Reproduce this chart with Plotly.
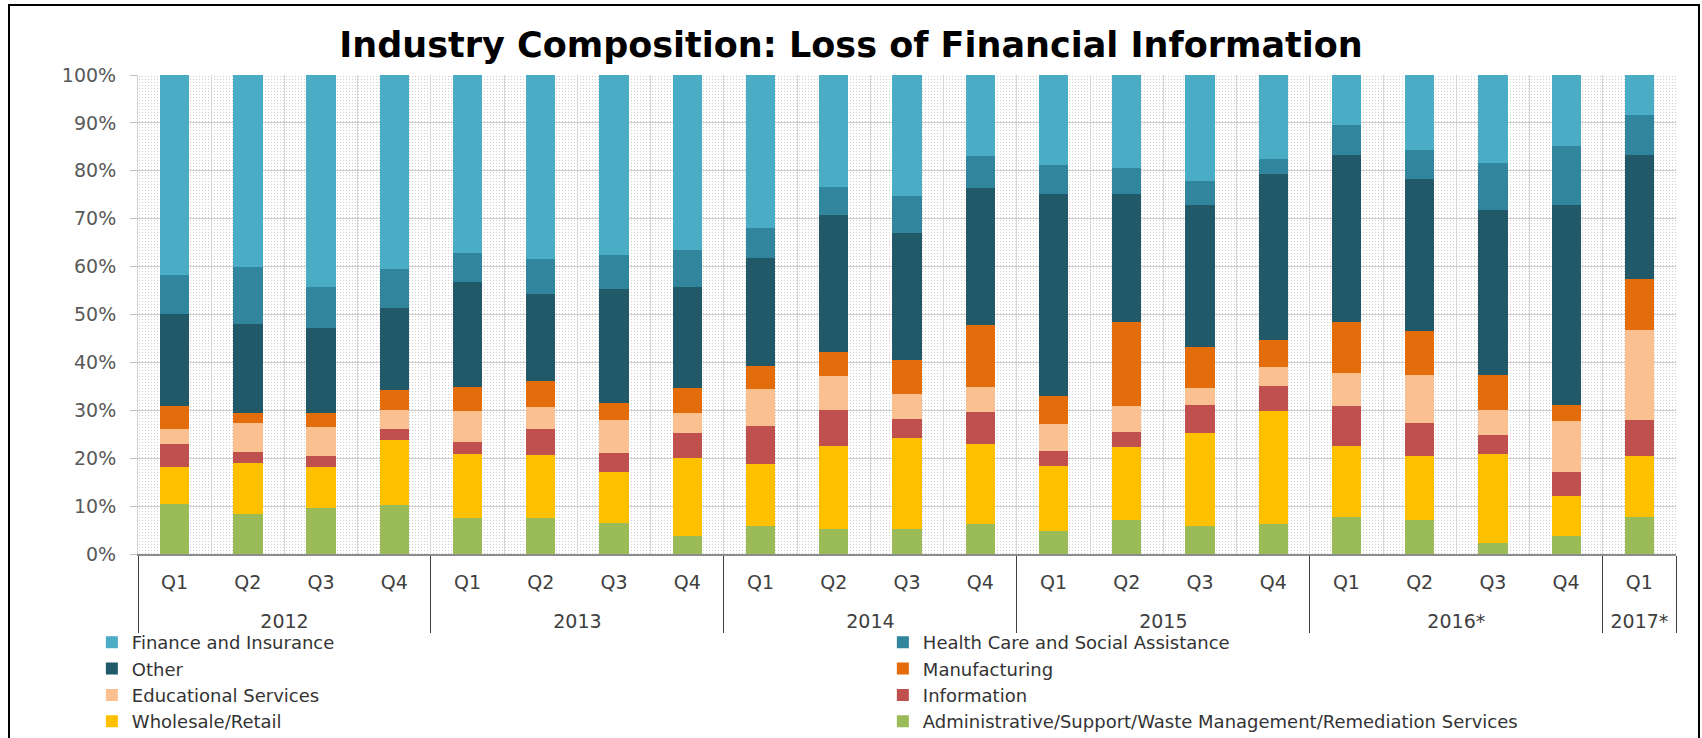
import base64
import plotly.graph_objects as go

years = ["2012"] * 4 + ["2013"] * 4 + ["2014"] * 4 + ["2015"] * 4 + ["2016*"] * 4 + ["2017*"]
quarters = ["Q1", "Q2", "Q3", "Q4"] * 5 + ["Q1"]

# Series (bottom of stack first)
admin = [10.4, 8.4, 9.6, 10.2, 7.6, 7.6, 6.5, 3.8, 5.9, 5.3, 5.3, 6.3, 4.9, 7.2, 5.9, 6.3, 7.8, 7.2, 2.4, 3.8, 7.8]
wholesale = [7.8, 10.6, 8.6, 13.6, 13.2, 13.1, 10.7, 16.2, 12.9, 17.2, 18.9, 16.6, 13.4, 15.1, 19.4, 23.5, 14.7, 13.3, 18.5, 8.4, 12.7]
information = [4.7, 2.3, 2.3, 2.2, 2.5, 5.3, 3.9, 5.2, 8.0, 7.6, 4.1, 6.8, 3.3, 3.3, 5.8, 5.2, 8.4, 6.8, 3.9, 4.9, 7.4]
educational = [3.1, 6.1, 6.1, 4.1, 6.5, 4.7, 6.8, 4.3, 7.6, 7.0, 5.2, 5.2, 5.5, 5.4, 3.5, 4.1, 6.8, 10.2, 5.3, 10.7, 18.9]
manufacturing = [4.9, 2.1, 2.9, 4.1, 4.9, 5.5, 3.7, 5.1, 4.9, 5.1, 7.0, 13.0, 5.9, 17.4, 8.6, 5.6, 10.7, 9.1, 7.2, 3.3, 10.6]
other = [19.3, 18.6, 17.6, 17.1, 21.9, 18.1, 23.8, 21.1, 22.4, 28.5, 26.5, 28.6, 42.3, 26.9, 29.5, 34.6, 34.9, 31.8, 34.5, 41.9, 25.9]
health = [8.0, 11.9, 8.6, 8.1, 6.1, 7.2, 7.0, 7.7, 6.3, 6.0, 7.9, 6.5, 5.9, 5.4, 5.1, 3.1, 6.3, 6.1, 9.8, 12.3, 8.4]
finance = [41.8, 40.0, 44.3, 40.6, 37.1, 38.5, 37.7, 36.6, 32.0, 23.3, 25.2, 17.0, 18.9, 19.4, 22.1, 17.6, 10.4, 15.6, 18.4, 14.8, 8.4]

series = [
    ("Administrative/Support/Waste Management/Remediation Services", admin, "#9BBB59"),
    ("Wholesale/Retail", wholesale, "#FFC000"),
    ("Information", information, "#C0504D"),
    ("Educational Services", educational, "#FAC090"),
    ("Manufacturing", manufacturing, "#E46C0A"),
    ("Other", other, "#215968"),
    ("Health Care and Social Assistance", health, "#31859C"),
    ("Finance and Insurance", finance, "#4BACC6"),
]

FONT = "DejaVu Sans"

# outer-level labels get a leading line break so they sit lower, as in the original
year_labels = ["<br>" + y for y in years]

fig = go.Figure()
for name, vals, col in series:
    fig.add_trace(go.Bar(
        x=[year_labels, quarters], y=vals, name=name,
        marker=dict(color=col, line=dict(width=0)),
    ))

# dotted plot-area background pattern (as in the original Excel chart)
PW, PH = 1538, 479
svg = (f'<svg xmlns="http://www.w3.org/2000/svg" width="{PW}" height="{PH}">'
       '<defs><pattern id="p" width="3" height="3" patternUnits="userSpaceOnUse">'
       '<rect x="1" y="1" width="1" height="1" fill="#cfcfcf"/></pattern></defs>'
       '<rect width="100%" height="100%" fill="#ffffff"/>'
       '<rect width="100%" height="100%" fill="url(#p)"/></svg>')
src = "data:image/svg+xml;base64," + base64.b64encode(svg.encode()).decode()

fig.update_layout(
    width=1702, height=738,
    margin=dict(l=138, r=26, t=75, b=184, autoexpand=False),
    paper_bgcolor="white",
    plot_bgcolor="rgba(0,0,0,0)",
    barmode="stack",
    barnorm="percent",
    bargap=0.6,
    title=dict(text="<b>Industry Composition: Loss of Financial Information</b>",
               x=0.5, xanchor="center", y=1 - 45 / 738, yanchor="middle",
               font=dict(family=FONT, size=35, color="#000000")),
    font=dict(family=FONT, size=19, color="#595959"),
    showlegend=True,
    legend=dict(orientation="h", traceorder="reversed",
                x=-0.030, xanchor="left", y=-0.146, yanchor="top",
                entrywidth=746, entrywidthmode="pixels",
                font=dict(family=FONT, size=18, color="#333333"),
                bgcolor="rgba(0,0,0,0)"),
    images=[dict(source=src, xref="paper", yref="paper", x=0, y=1, sizex=1, sizey=1,
                 xanchor="left", yanchor="top", sizing="stretch", layer="below")],
    shapes=[dict(type="rect", xref="paper", yref="paper",
                 x0=(9 - 138) / 1538, x1=(1699 - 138) / 1538,
                 y0=-0.6, y1=(554 - 5) / 479,
                 line=dict(color="#000000", width=2), fillcolor="rgba(0,0,0,0)", layer="above")],
)

fig.update_xaxes(
    type="multicategory", tickson="boundaries", ticks="",
    showgrid=True, gridcolor="#d6d6d6", gridwidth=1,
    showline=True, linecolor="#8c8c8c", linewidth=2,
    showdividers=True, dividercolor="#404040", dividerwidth=1,
    ticklabelstandoff=10,
    tickfont=dict(family=FONT, size=19, color="#404040"),
    automargin=False,
)
fig.update_yaxes(
    range=[0, 100], dtick=10, ticksuffix="%",
    showgrid=True, gridcolor="#cccccc", gridwidth=1,
    showline=True, linecolor="#d0d0d0", linewidth=1,
    ticks="outside", ticklen=7, tickcolor="#bfbfbf", ticklabelstandoff=10,
    tickfont=dict(family=FONT, size=19, color="#595959"),
    zeroline=False, automargin=False,
)

# the page's default body margin would offset the 1702x738 figure by 8px
fig.write_html("out.html", config={"displayModeBar": False},
               post_script="document.body.style.margin='0';document.body.style.overflow='hidden';")
